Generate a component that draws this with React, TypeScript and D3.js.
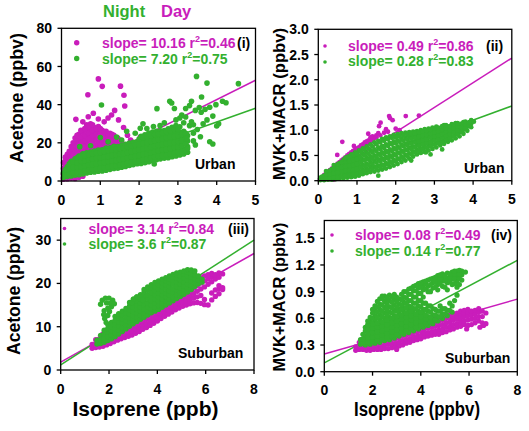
import React from "react";
import * as d3 from "d3";

const DAY = "#c91dbb";
const NIGHT = "#33b02f";
const FONT = "Arial, 'Liberation Sans', Helvetica, sans-serif";

// each entry: [isoprene, y1, y2, ...]
type Col = number[];

// (i) urban acetone
const urbanAcetoneDay: Col[] = [
  [0.05, 1.0, 3.5, 6.5, 9.5], [0.15, 1.2, 5.0, 8.0, 11.0, 14.0], [0.25, 1.5, 6.0, 9.0, 12.0, 15.0, 18.0],
  [0.35, 1.3, 7.5, 10.5, 13.5, 16.5, 19.5, 22.5], [0.45, 2.0, 9.5, 12.5, 15.5, 18.5, 21.5, 24.5],
  [0.55, 2.5, 10.5, 13.5, 16.5, 19.5, 22.5, 25.5], [0.65, 11.5, 14.5, 17.5, 20.5, 23.5, 26.5, 29.5],
  [0.75, 12.5, 15.5, 18.5, 21.5, 24.5, 27.5, 30.0], [0.85, 13.0, 16.0, 19.0, 22.0, 25.0, 28.0],
  [0.95, 14.0, 17.0, 20.0, 23.0, 26.0, 28.5], [1.05, 14.5, 17.5, 20.5, 23.5, 26.5],
  [1.15, 15.0, 18.0, 21.0, 24.0, 26.0], [1.25, 16.0, 19.0, 22.0, 25.0], [1.35, 16.5, 19.5, 22.5, 24.0],
  [1.45, 17.0, 20.0, 22.5], [1.55, 17.5, 20.5],
  [0.1, 4.5, 7.5, 10.5, 12.5], [0.2, 6.5, 9.5, 12.5, 15.5], [0.3, 8.0, 11.0, 14.0, 17.0, 20.0],
  [0.4, 9.0, 12.0, 15.0, 18.0, 21.0, 24.0], [0.5, 11.0, 14.0, 17.0, 20.0, 23.0, 26.5],
  [0.6, 12.0, 15.0, 18.0, 21.0, 24.0, 27.5], [0.7, 13.0, 16.0, 19.0, 22.0, 25.0, 28.5],
  [0.8, 14.5, 17.5, 20.5, 23.5, 26.5, 29.5], [0.9, 15.5, 18.5, 21.5, 24.5, 27.5],
  [1.0, 16.0, 19.0, 22.0, 25.0, 27.5], [1.1, 16.5, 19.5, 22.5, 25.5], [1.2, 17.5, 20.5, 23.5],
  [1.3, 18.0, 21.0, 24.5], [1.4, 18.5, 21.5], [1.5, 19.0, 21.5],
  [0.95, 53.5], [0.68, 45.2], [1.05, 49.6], [1.52, 49.7], [1.61, 44.9], [1.63, 39.3], [1.37, 37.0],
  [0.37, 32.3], [1.29, 34.6], [1.47, 32.0], [1.6, 28.0], [0.82, 35.5], [0.69, 33.7], [1.2, 33.0],
  [1.1, 31.0], [0.95, 32.5], [1.78, 21.5], [2.03, 23.0], [1.9, 19.0], [2.2, 21.0], [1.7, 24.0], [0.55, 31.0],
];
const urbanAcetoneNight: Col[] = [
  [0.05, 1.8, 4.2], [0.15, 2.3, 4.6, 7.4], [0.25, 2.6, 5.1, 7.8, 10.3], [0.35, 3.1, 5.9, 8.6, 11.6],
  [0.45, 3.3, 5.6, 8.2, 10.9, 13.1], [0.55, 3.7, 6.4, 9.1, 11.8, 14.2], [0.65, 4.2, 6.8, 9.5, 12.1, 14.8],
  [0.75, 4.6, 7.3, 9.9, 12.6, 15.2], [0.85, 4.7, 7.5, 10.2, 12.9, 15.7], [0.95, 5.1, 7.8, 10.6, 13.3, 16.2],
  [1.05, 5.3, 8.1, 10.8, 13.6, 16.4], [1.15, 5.6, 8.4, 11.2, 14.1, 17.3], [1.25, 6.1, 8.9, 11.7, 14.5, 17.4],
  [1.35, 6.6, 9.3, 12.1, 15.0, 18.2], [1.45, 6.7, 9.5, 12.4, 15.3, 18.1], [1.55, 7.2, 9.9, 12.8, 15.7, 18.6],
  [1.65, 7.6, 10.4, 13.2, 16.1, 19.2], [1.75, 8.1, 10.9, 13.7, 16.6, 19.9], [1.85, 8.6, 11.3, 14.1, 17.0, 20.3],
  [1.95, 9.0, 11.8, 14.6, 17.5, 20.6], [2.05, 9.2, 12.0, 14.9, 17.8, 20.8, 23.4],
  [2.15, 9.6, 12.4, 15.3, 18.2, 21.3, 24.2], [2.25, 10.1, 12.9, 15.8, 18.7, 21.9, 25.1],
  [2.35, 10.6, 13.4, 16.2, 19.1, 22.3, 25.6], [2.45, 11.1, 13.9, 16.8, 19.7, 22.6, 26.1],
  [2.55, 11.6, 14.3, 17.1, 20.2, 23.2, 26.3], [2.65, 12.0, 14.8, 17.6, 20.5, 23.5, 26.4],
  [2.75, 12.2, 15.1, 18.0, 21.1, 24.2, 27.3], [2.85, 12.7, 15.5, 18.4, 21.4, 24.6, 28.1],
  [2.95, 13.1, 16.0, 18.9, 21.8, 25.1, 29.0], [3.05, 13.6, 16.4, 19.2, 22.3, 25.6, 28.4],
  [3.15, 14.2, 16.9, 19.8, 22.7, 26.1], [3.25, 15.1, 18.0, 20.9, 23.8],
  [0.1, 3.3, 6.0], [0.2, 3.6, 6.3, 9.0], [0.3, 4.3, 7.1, 9.9], [0.4, 4.4, 7.0, 9.6, 12.2],
  [0.5, 4.9, 7.6, 10.3, 13.0], [0.6, 5.3, 8.0, 10.7, 13.4], [0.7, 5.7, 8.5, 11.2, 13.9],
  [0.8, 6.0, 8.7, 11.5, 14.3], [0.9, 6.3, 9.1, 11.9, 14.6], [1.0, 6.6, 9.4, 12.2, 15.0],
  [1.1, 6.9, 9.7, 12.5, 15.4], [1.2, 7.3, 10.1, 12.9, 15.8], [1.3, 7.7, 10.5, 13.3, 16.3],
  [1.4, 8.0, 10.8, 13.7, 16.6], [1.5, 8.4, 11.2, 14.0, 17.0], [1.6, 8.8, 11.6, 14.4, 17.4],
  [1.7, 9.3, 12.1, 14.9, 17.9], [1.8, 9.8, 12.6, 15.4, 18.4], [1.9, 10.2, 13.0, 15.8, 18.8],
  [2.0, 10.6, 13.4, 16.3, 19.3, 22.0], [2.1, 11.0, 13.8, 16.8, 19.8, 22.8], [2.2, 11.5, 14.3, 17.3, 20.3, 23.5],
  [2.3, 12.0, 14.8, 17.7, 20.7, 23.9], [2.4, 12.5, 15.3, 18.3, 21.2, 24.3], [2.5, 13.0, 15.7, 18.7, 21.7, 24.7],
  [2.6, 13.4, 16.2, 19.1, 22.0, 25.0], [2.7, 13.6, 16.5, 19.5, 22.6, 25.8], [2.8, 14.1, 16.9, 19.9, 23.0, 26.3],
  [2.9, 14.5, 17.4, 20.3, 23.4, 26.8], [3.0, 15.0, 17.8, 20.8, 23.9, 27.2], [3.1, 15.5, 18.3, 21.2, 24.4],
  [3.2, 16.5, 19.4, 22.3, 25.0],
  [3.48, 54.8], [3.75, 51.3], [4.56, 51.0], [3.61, 44.0], [3.35, 41.8], [2.79, 41.8], [2.84, 40.9],
  [2.91, 38.0], [2.46, 37.9], [4.15, 41.8], [4.24, 41.0], [3.98, 40.0], [3.2, 38.0], [3.3, 39.5],
  [3.45, 37.0], [3.55, 38.5], [3.7, 37.5], [3.82, 38.6], [3.6, 36.0], [3.1, 34.5], [3.2, 33.5],
  [3.05, 33.0], [2.54, 29.0], [2.65, 30.5], [3.3, 29.0], [3.4, 29.5], [3.75, 32.0], [4.0, 28.8],
  [4.05, 30.0], [3.45, 18.9], [3.82, 20.6], [3.9, 19.4], [3.58, 23.2], [3.23, 22.4], [3.4, 25.0],
  [3.5, 27.0], [3.65, 30.0], [2.39, 8.9], [1.03, 39.8], [0.47, 18.0], [1.0, 22.8], [1.42, 23.0],
  [1.68, 26.0], [2.03, 27.6], [2.2, 27.5], [2.37, 28.5], [1.2, 20.5], [0.75, 18.5], [1.55, 21.5],
  [3.35, 31.0], [3.15, 30.5], [2.95, 32.0], [3.9, 34.0], [3.25, 17.0], [3.4, 21.0], [2.1, 30.0], [1.9, 25.0],
];

// (ii) urban MVK+MACR
const urbanMvkDay: Col[] = [
  [0.05, 0.03], [0.1, 0.06], [0.15, 0.08, 0.11], [0.2, 0.12, 0.16], [0.25, 0.14, 0.18], [0.3, 0.15, 0.21],
  [0.35, 0.19, 0.24], [0.4, 0.22, 0.27], [0.45, 0.25, 0.31], [0.5, 0.28, 0.34], [0.55, 0.31, 0.37],
  [0.6, 0.34, 0.4], [0.65, 0.37, 0.43], [0.7, 0.4, 0.46], [0.75, 0.43, 0.5], [0.8, 0.47, 0.53],
  [0.85, 0.5, 0.56], [0.9, 0.52, 0.59], [0.95, 0.55, 0.61], [1.0, 0.58, 0.64], [1.05, 0.6, 0.66],
  [1.1, 0.63, 0.7], [1.15, 0.66, 0.72], [1.2, 0.69, 0.76], [1.25, 0.72, 0.78], [1.3, 0.74, 0.8],
  [1.35, 0.78, 0.86], [1.4, 0.8, 0.88], [1.45, 0.84], [1.5, 0.86, 0.9], [1.55, 0.94], [1.6, 0.9],
  [1.7, 0.95], [1.8, 0.97],
  [0.49, 0.51], [0.62, 0.77], [1.29, 0.93], [1.57, 1.08], [1.61, 1.15], [1.83, 1.28], [1.85, 1.24],
  [2.26, 1.28], [2.6, 1.29], [2.0, 1.03], [1.92, 1.2], [0.92, 0.69], [0.4, 0.02], [0.3, 0.03],
  [2.1, 1.0], [1.75, 1.02],
];
const urbanMvkNight: Col[] = [
  [0.05, 0.01, 0.05], [0.15, 0.01, 0.06, 0.1], [0.25, 0.02, 0.09, 0.16], [0.35, 0.02, 0.1, 0.17, 0.23],
  [0.45, 0.03, 0.11, 0.2, 0.28], [0.55, 0.04, 0.12, 0.21, 0.29, 0.35], [0.65, 0.05, 0.14, 0.23, 0.32, 0.41],
  [0.75, 0.06, 0.15, 0.24, 0.33, 0.42, 0.47], [0.85, 0.07, 0.16, 0.25, 0.35, 0.44, 0.52],
  [0.95, 0.08, 0.17, 0.27, 0.37, 0.47, 0.56], [1.05, 0.1, 0.19, 0.29, 0.39, 0.49, 0.6],
  [1.15, 0.13, 0.22, 0.32, 0.42, 0.53, 0.64], [1.25, 0.15, 0.24, 0.34, 0.45, 0.56, 0.68],
  [1.35, 0.17, 0.27, 0.37, 0.48, 0.6, 0.72], [1.45, 0.18, 0.28, 0.39, 0.5, 0.62, 0.76],
  [1.55, 0.2, 0.3, 0.42, 0.53, 0.66, 0.79], [1.65, 0.22, 0.32, 0.44, 0.56, 0.69, 0.83],
  [1.75, 0.24, 0.35, 0.47, 0.59, 0.72, 0.86], [1.85, 0.27, 0.38, 0.5, 0.62, 0.75, 0.88],
  [1.95, 0.3, 0.41, 0.53, 0.65, 0.78, 0.91], [2.05, 0.33, 0.44, 0.56, 0.68, 0.8, 0.92],
  [2.15, 0.37, 0.48, 0.59, 0.71, 0.83, 0.94], [2.25, 0.4, 0.51, 0.62, 0.73, 0.85, 0.95],
  [2.35, 0.44, 0.54, 0.65, 0.76, 0.87, 0.96], [2.45, 0.48, 0.58, 0.68, 0.78, 0.88, 0.97],
  [2.55, 0.52, 0.61, 0.71, 0.81, 0.9, 0.98], [2.65, 0.55, 0.64, 0.74, 0.83, 0.92, 1.0],
  [2.75, 0.57, 0.67, 0.76, 0.85, 0.94, 1.02], [2.85, 0.6, 0.69, 0.78, 0.87, 0.95, 1.03],
  [2.95, 0.63, 0.72, 0.81, 0.89, 0.97, 1.05], [3.05, 0.66, 0.75, 0.84, 0.92, 1.0, 1.07],
  [3.15, 0.7, 0.78, 0.86, 0.94, 1.01], [3.25, 0.73, 0.81, 0.89, 0.97, 1.04, 1.1],
  [3.35, 0.77, 0.85, 0.93, 1.0, 1.07], [3.45, 0.8, 0.88, 0.96, 1.04, 1.12],
  [3.55, 0.84, 0.92, 1.0, 1.07, 1.14], [3.65, 0.88, 0.96, 1.04, 1.11], [3.75, 0.93, 1.01, 1.09, 1.16],
  [3.85, 0.99, 1.07, 1.14], [3.95, 1.06, 1.13, 1.2],
  [0.1, 0.03, 0.08], [0.2, 0.04, 0.12, 0.19], [0.3, 0.05, 0.13, 0.2], [0.4, 0.06, 0.15, 0.24, 0.31],
  [0.5, 0.07, 0.16, 0.25, 0.33], [0.6, 0.08, 0.18, 0.27, 0.37], [0.7, 0.1, 0.19, 0.28, 0.38, 0.45],
  [0.8, 0.11, 0.2, 0.3, 0.39, 0.48], [0.9, 0.12, 0.22, 0.31, 0.41, 0.51], [1.0, 0.14, 0.23, 0.33, 0.43, 0.53],
  [1.1, 0.16, 0.26, 0.36, 0.46, 0.57], [1.2, 0.19, 0.29, 0.4, 0.5, 0.61], [1.3, 0.21, 0.31, 0.42, 0.53, 0.64],
  [1.4, 0.23, 0.33, 0.44, 0.56, 0.68], [1.5, 0.25, 0.36, 0.47, 0.59, 0.72], [1.6, 0.27, 0.38, 0.5, 0.62, 0.76],
  [1.7, 0.29, 0.41, 0.53, 0.65, 0.79], [1.8, 0.32, 0.44, 0.56, 0.69, 0.82], [1.9, 0.35, 0.47, 0.59, 0.72, 0.85],
  [2.0, 0.38, 0.5, 0.62, 0.74, 0.86], [2.1, 0.42, 0.54, 0.65, 0.77, 0.88], [2.2, 0.45, 0.57, 0.68, 0.79, 0.9],
  [2.3, 0.49, 0.6, 0.7, 0.81, 0.92], [2.4, 0.53, 0.63, 0.73, 0.83, 0.93], [2.5, 0.56, 0.66, 0.76, 0.85, 0.94],
  [2.6, 0.59, 0.69, 0.78, 0.87, 0.96], [2.7, 0.62, 0.71, 0.8, 0.89, 0.98], [2.8, 0.65, 0.74, 0.82, 0.91, 0.99],
  [2.9, 0.68, 0.76, 0.85, 0.93, 1.01], [3.0, 0.71, 0.79, 0.88, 0.96, 1.03], [3.1, 0.74, 0.82, 0.9, 0.98, 1.05],
  [3.2, 0.77, 0.85, 0.93, 1.01, 1.08], [3.3, 0.81, 0.89, 0.97, 1.04, 1.1], [3.4, 0.84, 0.92, 1.0, 1.08],
  [3.5, 0.88, 0.96, 1.04, 1.11], [3.6, 0.92, 1.0, 1.08, 1.14], [3.7, 0.97, 1.05, 1.13],
  [3.8, 1.03, 1.11, 1.17], [3.9, 1.1, 1.16],
  [4.02, 1.17], [2.9, 0.52], [2.78, 0.56], [3.2, 0.62], [2.4, 0.4], [1.55, 0.1],
];

// (iii) suburban acetone
const suburbanAcetoneDay: Col[] = [
  [1.3, 5.0, 5.9], [1.45, 5.2, 6.1, 7.0], [1.6, 5.3, 6.2, 7.2], [1.75, 5.5, 6.4, 7.4, 8.3],
  [1.9, 5.8, 6.7, 7.7, 8.6], [2.05, 6.1, 7.0, 8.0, 9.0], [2.2, 6.5, 7.4, 8.4, 9.4, 10.3],
  [2.35, 6.9, 7.8, 8.8, 9.7, 10.7], [2.5, 7.2, 8.1, 9.1, 10.1, 11.0], [2.65, 7.5, 8.4, 9.4, 10.4, 11.4],
  [2.8, 7.8, 8.7, 9.7, 10.7, 11.7], [2.95, 8.1, 9.0, 10.0, 11.0, 12.0, 14.6], [3.1, 8.5, 9.4, 10.4, 11.4, 12.4],
  [3.25, 8.9, 9.8, 10.8, 11.8, 12.8], [3.4, 9.4, 10.3, 11.3, 12.3, 13.3], [3.55, 9.8, 10.7, 11.7, 12.7, 13.7],
  [3.7, 10.3, 11.2, 12.2, 13.2, 14.2], [3.85, 10.8, 11.8, 12.8, 13.8, 14.7], [4.0, 11.3, 12.3, 13.3, 14.3, 15.2],
  [4.15, 11.9, 12.9, 13.9, 14.9, 15.8], [4.3, 12.4, 13.4, 14.4, 15.4, 16.3], [4.45, 12.9, 13.9, 14.9, 15.9, 16.8],
  [4.6, 13.4, 14.4, 15.4, 16.4, 17.3], [4.75, 13.9, 14.9, 15.9, 16.9, 17.8], [4.9, 14.3, 15.3, 16.3, 17.3, 18.3],
  [5.05, 14.7, 15.7, 16.7, 17.7, 18.7], [5.2, 15.0, 16.0, 17.0, 18.0, 19.1], [5.35, 15.3, 16.3, 17.3, 18.4, 19.6],
  [5.5, 15.5, 16.6, 17.7, 18.9, 20.1], [5.65, 15.6, 16.9, 18.2, 19.5, 20.7], [5.8, 15.4, 17.2, 18.7, 20.1, 21.3],
  [5.95, 15.1, 16.3, 19.2, 20.6, 21.7], [6.1, 15.0, 19.8, 21.0, 22.0], [6.25, 16.2, 17.8, 20.4, 21.5, 22.3],
  [6.4, 17.0, 18.5, 21.0, 22.0], [6.55, 17.6, 18.8, 19.5, 21.4, 22.4], [6.7, 18.6, 19.0, 22.2],
];
const suburbanAcetoneNight: Col[] = [
  [1.5, 6.0, 6.9], [1.65, 6.1, 7.0, 8.0], [1.8, 6.4, 7.3, 8.3, 9.2], [1.95, 6.8, 7.7, 8.7, 9.6, 10.5],
  [2.1, 7.2, 8.1, 9.1, 10.0, 11.0], [2.25, 7.7, 8.6, 9.6, 10.5, 11.5, 12.4], [2.4, 8.3, 9.2, 10.2, 11.1, 12.1, 13.0],
  [2.55, 8.9, 9.8, 10.8, 11.7, 12.7, 13.6], [2.7, 9.5, 10.4, 11.4, 12.3, 13.3, 14.2],
  [2.85, 10.1, 11.0, 12.0, 12.9, 13.9, 14.8, 15.6], [3.0, 10.7, 11.6, 12.6, 13.5, 14.5, 15.4, 16.3],
  [3.15, 11.2, 12.1, 13.1, 14.0, 15.0, 15.9, 16.9], [3.3, 11.7, 12.6, 13.6, 14.5, 15.5, 16.4, 17.4],
  [3.45, 12.2, 13.1, 14.1, 15.0, 16.0, 16.9, 17.9, 18.6], [3.6, 12.7, 13.6, 14.6, 15.5, 16.5, 17.4, 18.4, 19.2],
  [3.75, 13.2, 14.1, 15.1, 16.0, 17.0, 17.9, 18.9, 19.7], [3.9, 13.6, 14.5, 15.5, 16.4, 17.4, 18.3, 19.3, 20.2],
  [4.05, 14.0, 14.9, 15.9, 16.8, 17.8, 18.7, 19.7, 20.6], [4.2, 14.5, 15.4, 16.4, 17.3, 18.3, 19.2, 20.1, 21.0],
  [4.35, 15.0, 15.9, 16.9, 17.8, 18.8, 19.7, 20.6, 21.3], [4.5, 15.5, 16.4, 17.4, 18.3, 19.3, 20.2, 21.0, 21.7],
  [4.65, 16.0, 16.9, 17.9, 18.8, 19.8, 20.7, 21.5, 22.1], [4.8, 16.5, 17.4, 18.4, 19.3, 20.3, 21.2, 22.0, 22.4],
  [4.95, 17.0, 17.9, 18.9, 19.8, 20.8, 21.7, 22.6], [5.1, 17.5, 18.4, 19.4, 20.3, 21.3, 22.2, 22.9],
  [5.25, 18.0, 18.9, 19.9, 20.8, 21.8, 22.6, 23.2], [5.4, 18.6, 19.5, 20.5, 21.4, 22.3, 23.1],
  [5.55, 19.3, 20.2, 21.1, 22.0, 22.9], [5.7, 19.9, 20.8, 21.7], [5.85, 20.3, 21.0],
  [1.65, 15.2], [1.72, 16.1], [1.85, 16.6], [2.0, 16.6], [2.15, 16.1], [2.22, 15.3], [2.1, 14.6],
  [1.95, 14.3], [1.8, 13.7], [1.78, 12.8], [1.82, 11.9], [1.88, 11.0], [2.95, 15.6], [3.02, 16.4],
  [3.15, 16.9], [3.3, 16.8], [3.4, 16.2], [1.9, 15.5], [2.05, 15.4], [1.95, 12.6], [2.02, 13.5],
];

// (iv) suburban MVK+MACR
const suburbanMvkDay: Col[] = [
  [1.3, 0.24, 0.28], [1.45, 0.25, 0.29, 0.33], [1.6, 0.25, 0.29, 0.33], [1.75, 0.24, 0.28, 0.32, 0.36],
  [1.9, 0.24, 0.28, 0.32, 0.36], [2.05, 0.25, 0.29, 0.33, 0.37, 0.41], [2.2, 0.25, 0.29, 0.33, 0.37, 0.42],
  [2.35, 0.25, 0.29, 0.34, 0.38, 0.43], [2.5, 0.26, 0.3, 0.35, 0.39, 0.44], [2.65, 0.26, 0.31, 0.35, 0.4, 0.45],
  [2.8, 0.27, 0.31, 0.36, 0.41, 0.46], [2.95, 0.28, 0.32, 0.37, 0.42, 0.47], [3.1, 0.29, 0.33, 0.38, 0.43, 0.48],
  [3.25, 0.3, 0.35, 0.4, 0.45, 0.5], [3.4, 0.32, 0.36, 0.41, 0.46, 0.51], [3.55, 0.33, 0.37, 0.42, 0.47, 0.52],
  [3.7, 0.35, 0.39, 0.44, 0.49, 0.54], [3.85, 0.36, 0.4, 0.45, 0.5, 0.55], [4.0, 0.37, 0.41, 0.46, 0.51, 0.56],
  [4.15, 0.39, 0.43, 0.48, 0.53, 0.57], [4.3, 0.4, 0.44, 0.49, 0.54, 0.58], [4.45, 0.41, 0.45, 0.5, 0.55, 0.59],
  [4.6, 0.42, 0.46, 0.51, 0.56, 0.6], [4.75, 0.43, 0.47, 0.52, 0.57, 0.61], [4.9, 0.44, 0.48, 0.53, 0.58, 0.62],
  [5.05, 0.45, 0.5, 0.55, 0.6, 0.63], [5.2, 0.47, 0.51, 0.56, 0.61, 0.64], [5.35, 0.48, 0.53, 0.58, 0.62, 0.65],
  [5.5, 0.5, 0.54, 0.59, 0.63, 0.66], [5.65, 0.51, 0.56, 0.6, 0.65, 0.68], [5.8, 0.53, 0.57, 0.62, 0.66, 0.69],
  [5.95, 0.52, 0.58, 0.63, 0.67, 0.7], [6.1, 0.53, 0.59, 0.64, 0.68], [6.25, 0.55, 0.6, 0.65, 0.69],
  [6.4, 0.57, 0.62, 0.67, 0.71], [6.55, 0.55, 0.62, 0.68], [6.7, 0.54, 0.66],
  [6.6, 0.52], [6.45, 0.5], [5.9, 0.48], [4.75, 0.42], [3.0, 0.25],
];
const suburbanMvkNight: Col[] = [
  [1.5, 0.31, 0.36], [1.7, 0.3, 0.35, 0.4, 0.46, 0.5], [1.9, 0.31, 0.36, 0.41, 0.46, 0.51, 0.56, 0.61],
  [2.1, 0.32, 0.37, 0.42, 0.47, 0.52, 0.57, 0.63, 0.69, 0.74],
  [2.3, 0.33, 0.38, 0.43, 0.48, 0.53, 0.58, 0.64, 0.7, 0.76, 0.82],
  [2.5, 0.35, 0.4, 0.45, 0.5, 0.55, 0.6, 0.66, 0.72, 0.79, 0.85],
  [2.7, 0.36, 0.41, 0.46, 0.51, 0.56, 0.61, 0.67, 0.73, 0.8, 0.86],
  [2.9, 0.38, 0.43, 0.48, 0.53, 0.58, 0.63, 0.69, 0.75, 0.81, 0.87],
  [3.1, 0.4, 0.45, 0.5, 0.55, 0.6, 0.65, 0.7, 0.76, 0.82],
  [3.3, 0.42, 0.47, 0.52, 0.57, 0.62, 0.67, 0.72, 0.78, 0.84, 0.9],
  [3.5, 0.44, 0.49, 0.54, 0.59, 0.64, 0.69, 0.74, 0.8, 0.87, 0.93],
  [3.7, 0.46, 0.51, 0.56, 0.61, 0.66, 0.71, 0.77, 0.84, 0.91, 0.96],
  [3.9, 0.48, 0.53, 0.58, 0.63, 0.68, 0.74, 0.8, 0.88, 0.94, 0.99],
  [4.1, 0.5, 0.55, 0.6, 0.65, 0.7, 0.77, 0.84, 0.92, 0.97, 1.01],
  [4.3, 0.52, 0.57, 0.62, 0.68, 0.74, 0.9, 0.96, 1.03],
  [4.5, 0.54, 0.59, 0.64, 0.71, 0.94, 1.0, 1.05],
  [4.7, 0.57, 0.62, 0.68, 0.92, 0.98, 1.03, 1.08],
  [4.9, 0.6, 0.65, 0.71, 0.96, 1.02, 1.06, 1.1],
  [5.1, 0.63, 0.69, 0.92, 1.0, 1.05, 1.11],
  [5.3, 0.67, 0.74, 0.98, 1.04, 1.08, 1.12],
  [5.5, 0.86, 0.95, 1.02, 1.07, 1.11, 1.13], [5.7, 1.03, 1.09, 1.13], [5.85, 1.12],
  [1.6, 0.32, 0.37, 0.42], [1.8, 0.33, 0.38, 0.43, 0.48, 0.53, 0.57],
  [2.0, 0.34, 0.39, 0.44, 0.49, 0.54, 0.6, 0.66, 0.7], [2.2, 0.35, 0.4, 0.45, 0.5, 0.55, 0.61, 0.67, 0.73, 0.79],
  [2.4, 0.36, 0.41, 0.46, 0.51, 0.56, 0.62, 0.68, 0.75, 0.82, 0.85],
  [2.6, 0.38, 0.43, 0.48, 0.53, 0.58, 0.64, 0.7, 0.76, 0.83], [2.8, 0.4, 0.45, 0.5, 0.55, 0.6, 0.66, 0.72, 0.78, 0.84],
  [3.0, 0.42, 0.47, 0.52, 0.57, 0.62, 0.68, 0.73, 0.79, 0.84], [3.2, 0.44, 0.49, 0.54, 0.59, 0.64, 0.7, 0.75, 0.81, 0.87],
  [3.4, 0.46, 0.51, 0.56, 0.61, 0.66, 0.72, 0.77, 0.83, 0.9], [3.6, 0.48, 0.53, 0.58, 0.63, 0.68, 0.73, 0.8, 0.87, 0.94],
  [3.8, 0.5, 0.55, 0.6, 0.65, 0.71, 0.77, 0.84, 0.91, 0.97], [4.0, 0.52, 0.57, 0.62, 0.67, 0.73, 0.8, 0.88, 0.95, 1.0],
  [4.2, 0.54, 0.59, 0.64, 0.7, 0.77, 0.93, 0.99, 1.02], [4.4, 0.56, 0.61, 0.67, 0.74, 0.9, 0.98, 1.04],
  [4.6, 0.58, 0.64, 0.7, 0.95, 1.01, 1.06], [4.8, 0.62, 0.68, 0.74, 0.99, 1.04, 1.09],
  [5.0, 0.65, 0.71, 0.95, 1.02, 1.08], [5.2, 0.69, 0.77, 1.01, 1.06, 1.1],
  [5.4, 0.8, 0.99, 1.05, 1.1, 1.13], [5.6, 0.98, 1.05, 1.1, 1.14],
];

const xTicksUrban = [0, 1, 2, 3, 4, 5];
const xTicksSuburban = [0, 2, 4, 6, 8];
const yTicksAcetoneUrban = [0, 20, 40, 60, 80];
const yTicksMvkUrban = [0, 0.5, 1, 1.5, 2, 2.5, 3];
const yTicksAcetoneSuburban = [0, 10, 20, 30];
const yTicksMvkSuburban = [0, 0.3, 0.6, 0.9, 1.2, 1.5];

const daySlopes = ["10.16", "0.49", "3.14", "0.08"];
const dayR2 = ["0.46", "0.86", "0.84", "0.49"];
const nightSlopes = ["7.20", "0.28", "3.6", "0.14"];
const nightR2 = ["0.75", "0.83", "0.87", "0.77"];
// [slope, intercept] of the drawn fit lines
const dayFits = [[10.16, 2.0], [0.49, -0.02], [3.14, 1.8], [0.077, 0.2]];
const nightFits = [[7.2, 2.1], [0.28, 0.08], [3.6, 1.2], [0.144, 0.1]];
const tags = ["(i)", "(ii)", "(iii)", "(iv)"];
const sites = ["Urban", "Urban", "Suburban", "Suburban"];

const pts = (cols: Col[]) => cols.flatMap(([x, ...ys]) => ys.map((y) => [x, y]));

const panels = [
  {
    left: 61.5, right: 255.5, top: 28.3, bottom: 181, xMax: 5, yMax: 80,
    xTicks: xTicksUrban, yTicks: yTicksAcetoneUrban, fmt: d3.format("d"),
    day: urbanAcetoneDay, night: urbanAcetoneNight, r: 2.8, lr: 2.7,
    dotX: 76.7, dayDotY: 42.7, nightDotY: 58.5, textX: 102, dayBase: 47.5, nightBase: 63.5, tagX: 237,
    siteX: 195, siteY: 169,
    yTitle: "Acetone (ppbv)", ytX: 23, ytY: 98, ytLen: 130, ytSize: 18,
  },
  {
    left: 318.3, right: 511.8, top: 29.3, bottom: 180.7, xMax: 5, yMax: 3,
    xTicks: xTicksUrban, yTicks: yTicksMvkUrban, fmt: d3.format(".1f"),
    day: urbanMvkDay, night: urbanMvkNight, r: 2.4, lr: 1.8,
    dotX: 325, dayDotY: 46, nightDotY: 62, textX: 348, dayBase: 50.5, nightBase: 66, tagX: 486,
    siteX: 464, siteY: 173,
    yTitle: "MVK+MACR (ppbv)", ytX: 285, ytY: 104, ytLen: 152, ytSize: 17,
  },
  {
    left: 60.7, right: 254, top: 218.5, bottom: 370, xMax: 8, yMax: 35,
    xTicks: xTicksSuburban, yTicks: yTicksAcetoneSuburban, fmt: d3.format("d"),
    day: suburbanAcetoneDay, night: suburbanAcetoneNight, r: 2.7, lr: 1.8,
    dotX: 64.5, dayDotY: 228.5, nightDotY: 244, textX: 88.5, dayBase: 233.5, nightBase: 249, tagX: 228,
    siteX: 178, siteY: 358,
    yTitle: "Acetone (ppbv)", ytX: 19.5, ytY: 291, ytLen: 128, ytSize: 17.5,
    xTitle: "Isoprene (ppb)", xtX: 145.5, xtLen: 146,
  },
  {
    left: 324.3, right: 517.3, top: 220.5, bottom: 371.7, xMax: 8, yMax: 1.7,
    xTicks: xTicksSuburban, yTicks: yTicksMvkSuburban, fmt: d3.format(".1f"),
    day: suburbanMvkDay, night: suburbanMvkNight, r: 2.6, lr: 1.8,
    dotX: 332, dayDotY: 235, nightDotY: 251, textX: 355, dayBase: 240, nightBase: 256, tagX: 491,
    siteX: 445, siteY: 363,
    yTitle: "MVK+MACR (ppbv)", ytX: 284.5, ytY: 297, ytLen: 149, ytSize: 17,
    xTitle: "Isoprene (ppbv)", xtX: 417, xtLen: 126,
  },
];

function Stat({ x, y, color, slope, r2 }: any) {
  return (
    <text x={x} y={y} fill={color} fontSize={14} fontWeight="bold">
      <tspan>{`slope= ${slope} r`}</tspan>
      <tspan fontSize={9} dy={-6}>2</tspan>
      <tspan dy={6}>{`=${r2}`}</tspan>
    </text>
  );
}

function Panel({ p, i }: { p: any; i: number }) {
  const x = d3.scaleLinear().domain([0, p.xMax]).range([p.left, p.right]);
  const y = d3.scaleLinear().domain([0, p.yMax]).range([p.bottom, p.top]);
  const fitPath = ([m, b]: number[]) =>
    d3.line()([[x(0), y(b)], [x(p.xMax), y(m * p.xMax + b)]]) ?? "";

  return (
    <g>
      <path d={fitPath(dayFits[i])} stroke={DAY} strokeWidth={1.5} fill="none" />
      <path d={fitPath(nightFits[i])} stroke={NIGHT} strokeWidth={1.5} fill="none" />
      {pts(p.day).map(([a, b], k) => (
        <circle key={"d" + k} cx={x(a)} cy={y(b)} r={p.r} fill={DAY} />
      ))}
      {pts(p.night).map(([a, b], k) => (
        <circle key={"n" + k} cx={x(a)} cy={y(b)} r={p.r} fill={NIGHT} />
      ))}

      <rect x={p.left} y={p.top} width={p.right - p.left} height={p.bottom - p.top}
        fill="none" stroke="#000" strokeWidth={1.3} />
      {p.yTicks.map((t: number) => (
        <g key={"y" + t}>
          <line x1={p.left - 4} x2={p.left} y1={y(t)} y2={y(t)} stroke="#000" strokeWidth={1.3} />
          <text x={p.left - 9.5} y={y(t)} dy="0.36em" textAnchor="end" fontSize={14} fontWeight="bold">
            {p.fmt(t)}
          </text>
        </g>
      ))}
      {p.xTicks.map((t: number) => (
        <g key={"x" + t}>
          <line x1={x(t)} x2={x(t)} y1={p.bottom} y2={p.bottom + 4} stroke="#000" strokeWidth={1.3} />
          <text x={x(t)} y={p.bottom + 23.5} textAnchor="middle" fontSize={14} fontWeight="bold">
            {t}
          </text>
        </g>
      ))}

      <circle cx={p.dotX} cy={p.dayDotY} r={p.lr} fill={DAY} />
      <circle cx={p.dotX} cy={p.nightDotY} r={p.lr} fill={NIGHT} />
      <Stat x={p.textX} y={p.dayBase} color={DAY} slope={daySlopes[i]} r2={dayR2[i]} />
      <Stat x={p.textX} y={p.nightBase} color={NIGHT} slope={nightSlopes[i]} r2={nightR2[i]} />
      <text x={p.tagX} y={p.dayBase} fontSize={14} fontWeight="bold">{tags[i]}</text>
      <text x={p.siteX} y={p.siteY} fontSize={14} fontWeight="bold">{sites[i]}</text>

      <text transform={`translate(${p.ytX},${p.ytY}) rotate(-90)`} textAnchor="middle"
        fontSize={p.ytSize} fontWeight="bold" textLength={p.ytLen} lengthAdjust="spacingAndGlyphs">
        {p.yTitle}
      </text>
      {p.xTitle && (
        <text x={p.xtX} y={416} textAnchor="middle" fontSize={19.5} fontWeight="bold"
          textLength={p.xtLen} lengthAdjust="spacingAndGlyphs">
          {p.xTitle}
        </text>
      )}
    </g>
  );
}

export default function App() {
  return (
    <svg width={529} height={431} fontFamily={FONT}
      style={{ position: "absolute", left: 0, top: 0, background: "#fff" }}>
      <text x={103} y={17} fill={NIGHT} fontSize={16.5} fontWeight="bold">Night</text>
      <text x={161} y={17} fill={DAY} fontSize={16.5} fontWeight="bold">Day</text>
      {panels.map((p, i) => (
        <Panel key={i} p={p} i={i} />
      ))}
    </svg>
  );
}
